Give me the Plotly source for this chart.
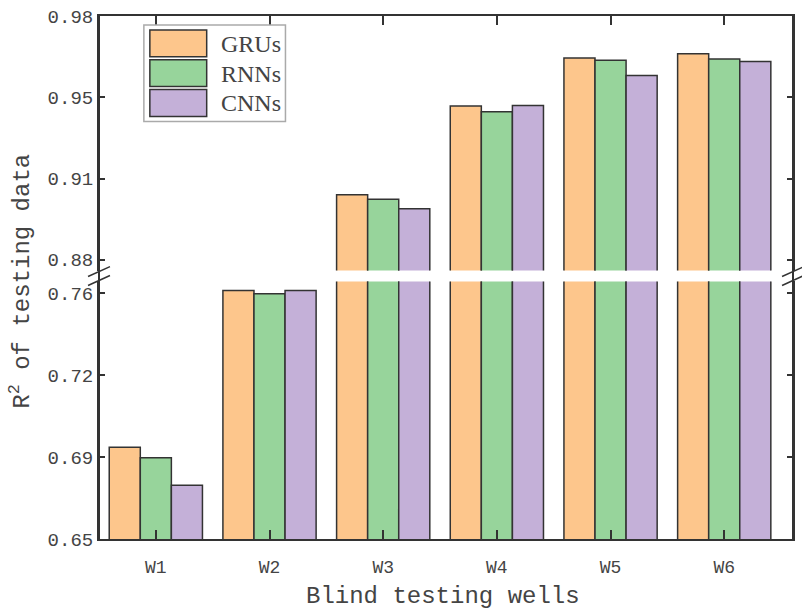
import plotly.graph_objects as go

# ---------------- data ----------------
wells = ["W1", "W2", "W3", "W4", "W5", "W6"]
series_names = ["GRUs", "RNNs", "CNNs"]
gru_vals = [0.6911, 0.7612, 0.9067, 0.9431, 0.9628, 0.9645]
rnn_vals = [0.6864, 0.7597, 0.9048, 0.9407, 0.9618, 0.9624]
cnn_vals = [0.6741, 0.7612, 0.9009, 0.9433, 0.9556, 0.9613]
series_vals = [gru_vals, rnn_vals, cnn_vals]
colors = ["#FDC68C", "#97D49B", "#C4B0D8"]

lower_tickvals = [0.65, 0.65 + 0.11 / 3, 0.65 + 0.22 / 3, 0.76]
lower_ticktext = ["0.65", "0.69", "0.72", "0.76"]
upper_tickvals = [0.88, 0.88 + 0.10 / 3, 0.88 + 0.20 / 3, 0.98]
upper_ticktext = ["0.88", "0.91", "0.95", "0.98"]
lower_range = [0.65, 0.7652]
upper_range = [0.8756, 0.98]

x_title = "Blind testing wells"
y_title = "R<sup>2</sup> of testing data"

# ---------------- layout geometry (pixels) ----------------
W, H = 802, 614
L, R, T, B = 99, 7, 13, 75
PW, PH = W - L - R, H - T - B
BOTTOM = H - B


def px(x):
    return (x - L) / PW


def py(y):
    return (BOTTOM - y) / PH


lower_top = py(280)
upper_bot = py(269)

fig = go.Figure()
for name, vals, col in zip(series_names, series_vals, colors):
    for xa, ya in (("x", "y"), ("x2", "y2")):
        fig.add_trace(go.Bar(
            x=wells, y=vals, name=name, xaxis=xa, yaxis=ya,
            marker=dict(color=col, line=dict(color="#333333", width=1.5)),
            showlegend=False,
        ))

axis_font = dict(family="Liberation Mono", size=19, color="#444444")
common_y = dict(ticks="inside", ticklen=6, tickwidth=1.5, tickcolor="#333333",
                showline=True, linecolor="#333333", linewidth=2, mirror="ticks",
                showgrid=False, zeroline=False, tickfont=axis_font)

fig.update_layout(
    width=W, height=H,
    margin=dict(l=L, r=R, t=T, b=B),
    paper_bgcolor="white", plot_bgcolor="white",
    barmode="group", bargap=0.18, bargroupgap=0,
    xaxis=dict(domain=[0, 1], anchor="y", range=[-0.5, 5.605],
               categoryorder="array", categoryarray=wells,
               ticks="inside", ticklen=9, tickwidth=1.5, tickcolor="#333333",
               showline=True, linecolor="#333333", linewidth=2,
               showgrid=False, zeroline=False, ticklabelstandoff=10,
               tickfont=dict(family="Liberation Mono", size=18, color="#444444")),
    xaxis2=dict(domain=[0, 1], anchor="y2", matches="x", side="top",
                categoryorder="array", categoryarray=wells,
                ticks="inside", ticklen=9, tickwidth=1.5, tickcolor="#333333",
                showline=True, linecolor="#333333", linewidth=2,
                showticklabels=False, showgrid=False, zeroline=False),
    yaxis=dict(domain=[0, lower_top], anchor="x", range=lower_range,
               tickvals=lower_tickvals, ticktext=lower_ticktext, **common_y),
    yaxis2=dict(domain=[upper_bot, 1], anchor="x2", range=upper_range,
                tickvals=upper_tickvals, ticktext=upper_ticktext, **common_y),
    font=dict(family="Liberation Mono", color="#444444"),
)

shapes = []
# continuous spines through the break
for xs in (0, 1):
    shapes.append(dict(type="line", xref="paper", yref="paper", x0=xs, x1=xs,
                       y0=0, y1=1, line=dict(color="#333333", width=2)))
# break marks
for cx in (L, L + PW):
    for yoff in (0, 9):
        shapes.append(dict(type="line", xref="paper", yref="paper",
                           x0=px(cx - 11), y0=py(275 + yoff),
                           x1=px(cx + 11), y1=py(265 + yoff),
                           line=dict(color="#333333", width=1.5)))
# legend box
shapes.append(dict(type="rect", xref="paper", yref="paper",
                   x0=px(144), x1=px(286), y0=py(119), y1=py(22),
                   line=dict(color="#AAAAAA", width=1.5), fillcolor="white",
                   layer="above"))
sw_tops = [27, 57, 87]
annotations = []
for name, col, top in zip(series_names, colors, sw_tops):
    shapes.append(dict(type="rect", xref="paper", yref="paper",
                       x0=px(150), x1=px(207), y0=py(top + 27), y1=py(top),
                       line=dict(color="#333333", width=1.5), fillcolor=col,
                       layer="above"))
    annotations.append(dict(xref="paper", yref="paper", x=px(219), y=py(top + 14),
                            text=name, showarrow=False, xanchor="left",
                            yanchor="middle",
                            font=dict(family="Liberation Serif", size=24,
                                      color="#444444")))
# axis titles
annotations.append(dict(xref="paper", yref="paper", x=px(444), y=py(597),
                        text=x_title, showarrow=False, xanchor="center",
                        yanchor="middle",
                        font=dict(family="Liberation Mono", size=24,
                                  color="#444444")))
annotations.append(dict(xref="paper", yref="paper", x=px(20), y=py(280),
                        text=y_title, showarrow=False, xanchor="center",
                        yanchor="middle", textangle=-90,
                        font=dict(family="Liberation Mono", size=24,
                                  color="#444444")))
fig.update_layout(shapes=shapes, annotations=annotations)

fig.write_html("out.html")
